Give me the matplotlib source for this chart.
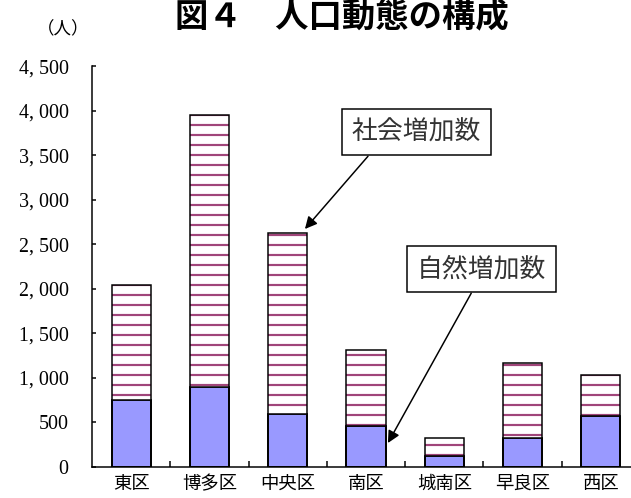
import matplotlib.pyplot as plt
import numpy as np

# 区ごとの人口動態（人）
wards = ["東区", "博多区", "中央区", "南区", "城南区", "早良区", "西区"]
natural = [750, 890, 590, 455, 120, 320, 570]      # 自然増加数
social = [1290, 3060, 2040, 855, 200, 850, 460]    # 社会増加数
yticks = [0, 500, 1000, 1500, 2000, 2500, 3000, 3500, 4000, 4500]

DPI = 60
plt.rcParams['font.family'] = ['Noto Sans CJK JP', 'DejaVu Sans']
plt.rcParams['hatch.linewidth'] = 2.6

fig = plt.figure(figsize=(631 / DPI, 498 / DPI), dpi=DPI)
ax = fig.add_axes([92 / 631, 31.5 / 498, 548 / 631, 400 / 498])

x = np.arange(len(wards))
total = np.array(natural) + np.array(social)
w = 0.5

ax.bar(x, natural, w, color="#9999ff", edgecolor="black", linewidth=1.8, zorder=2)
ax.bar(x, social, w, bottom=natural, color="white", hatch="-",
       edgecolor="#a0457a", linewidth=0, zorder=2)
ax.bar(x, total, w, fill=False, edgecolor="black", linewidth=1.8, zorder=3)
ax.bar(x, natural, w, fill=False, edgecolor="black", linewidth=1.8, zorder=3)

ax.set_xlim(-0.5, len(wards) - 0.5)
ax.set_ylim(0, 4500)
ax.set_yticks(yticks)
ax.set_yticklabels([f"{v:,}".replace(",", ", ") for v in yticks],
                   family="Liberation Serif", fontsize=24)
ax.set_xticks(x)
ax.set_xticklabels(wards, fontsize=22)
ax.set_xticks(x[:-1] + 0.5, minor=True)
ax.tick_params(axis="x", which="major", length=0, pad=10)
ax.tick_params(axis="x", which="minor", direction="in", length=7, width=1.8)
ax.tick_params(axis="y", direction="in", length=5, width=1.8, pad=28)

for s in ["top", "right"]:
    ax.spines[s].set_visible(False)
for s in ["left", "bottom"]:
    ax.spines[s].set_linewidth(1.8)
ax.set_facecolor("none")

arrow = dict(arrowstyle="-|>", color="black", lw=1.8, mutation_scale=30,
             shrinkA=0, shrinkB=0)
box = dict(boxstyle="square,pad=0.38", fc="white", ec="black", lw=1.8)

ax.annotate("社会増加数", xy=(2.22, 2672), xytext=(3.64, 3763),
            ha="center", va="center", fontsize=31, color="#333333",
            bbox=box, arrowprops=dict(arrow, relpos=(0.2, 0)), zorder=5)
ax.annotate("自然増加数", xy=(3.28, 264), xytext=(4.47, 2222),
            ha="center", va="center", fontsize=31, color="#333333",
            bbox=box, arrowprops=dict(arrow, relpos=(0.47, 0)), zorder=5)

# title sits at the very top edge, as in the source
fig.text(342 / 631, 1 - 1 / 498, "図４　人口動態の構成", ha="center", va="top",
         fontsize=40, fontweight="bold")
fig.text(63 / 631, 1 - 29 / 498, "（人）", ha="center", va="center", fontsize=21)

fig.savefig("out.png", dpi=DPI)
